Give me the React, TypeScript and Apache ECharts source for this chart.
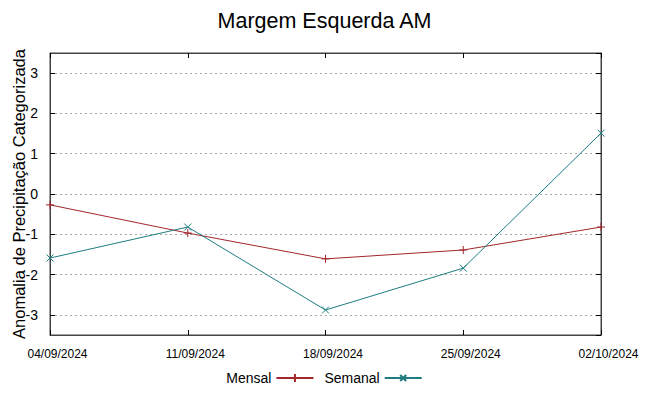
import React, { useEffect, useRef } from "react";
import * as echarts from "echarts";

const dates = ["04/09/2024", "11/09/2024", "18/09/2024", "25/09/2024", "02/10/2024"];
const mensal = [-0.27, -0.97, -1.61, -1.39, -0.82];
const semanal = [-1.59, -0.82, -2.88, -1.84, 1.51];

const FONT = "Liberation Sans";
const RED = "#a3262b";
const TEAL = "#1d7d80";
const BORDER = "#444";

export default function App() {
  const ref = useRef<HTMLDivElement>(null);
  useEffect(() => {
    document.body.style.margin = "0";
    const chart = echarts.init(ref.current!, undefined, { renderer: "svg" });
    const yBase = {
      type: "value",
      min: -3.5,
      max: 3.5,
      splitNumber: 7,
      axisLine: { show: true, onZero: false, lineStyle: { color: BORDER } },
      axisTick: { show: true, inside: true, length: 5, lineStyle: { color: "#000" } },
    };
    chart.setOption({
      animation: false,
      backgroundColor: "#fff",
      textStyle: { fontFamily: FONT },
      title: {
        text: "Margem Esquerda AM",
        left: "center",
        top: 5,
        textStyle: { fontFamily: FONT, fontSize: 21.5, fontWeight: "normal", color: "#000" },
      },
      legend: {
        bottom: 6,
        left: "center",
        align: "right",
        itemWidth: 37,
        itemHeight: 8,
        itemGap: 10,
        textStyle: { fontFamily: FONT, fontSize: 14, color: "#000" },
        data: [
          { name: "Mensal", icon: "path://M0,4 L37,4 M18.5,0 L18.5,8" },
          { name: "Semanal", icon: "path://M0,4 L37,4 M15.5,1 L21.5,7 M15.5,7 L21.5,1" },
        ],
      },
      grid: {
        left: 50,
        right: 48,
        top: 53,
        bottom: 61,
        show: true,
        borderColor: BORDER,
        borderWidth: 1,
        containLabel: false,
        outerBoundsMode: "none",
      },
      xAxis: [
        {
          type: "category",
          data: dates,
          boundaryGap: false,
          position: "bottom",
          axisLine: { show: true, onZero: false, lineStyle: { color: BORDER } },
          axisTick: { show: true, inside: true, length: 5, lineStyle: { color: "#000" } },
          axisLabel: { fontFamily: FONT, fontSize: 12, color: "#000", margin: 13, padding: [0, 0, 0, 15] },
          splitLine: { show: false },
        },
        {
          type: "category",
          data: dates,
          boundaryGap: false,
          position: "top",
          axisLine: { show: true, onZero: false, lineStyle: { color: BORDER } },
          axisTick: { show: true, inside: true, length: 5, lineStyle: { color: "#000" } },
          axisLabel: { show: false },
          splitLine: { show: false },
        },
      ],
      yAxis: [
        {
          ...yBase,
          position: "left",
          name: "Anomalia de Precipitação Categorizada",
          nameLocation: "middle",
          nameGap: 23,
          nameMoveOverlap: false,
          nameTextStyle: { fontFamily: FONT, fontSize: 16.5, color: "#000" },
          axisLabel: {
            fontFamily: FONT,
            fontSize: 14,
            color: "#000",
            margin: 12,
            showMinLabel: false,
            showMaxLabel: false,
          },
          splitLine: {
            show: true,
            lineStyle: { color: "#a8a8a8", type: [2, 3], width: 1 },
            showMinLine: false,
            showMaxLine: false,
          },
        },
        {
          ...yBase,
          position: "right",
          axisLabel: { show: false },
          splitLine: { show: false },
        },
      ],
      series: [
        {
          name: "Mensal",
          type: "line",
          data: mensal,
          symbol: "path://M0,5 L10,5 M5,0 L5,10",
          symbolSize: 8,
          itemStyle: { color: RED, borderColor: RED, borderWidth: 1 },
          lineStyle: { color: RED, width: 1 },
        },
        {
          name: "Semanal",
          type: "line",
          data: semanal,
          symbol: "path://M0,0 L10,10 M0,10 L10,0",
          symbolSize: 7,
          itemStyle: { color: TEAL, borderColor: TEAL, borderWidth: 1 },
          lineStyle: { color: TEAL, width: 1 },
        },
      ],
    });
    return () => chart.dispose();
  }, []);
  return <div ref={ref} style={{ width: 649, height: 396 }} />;
}
